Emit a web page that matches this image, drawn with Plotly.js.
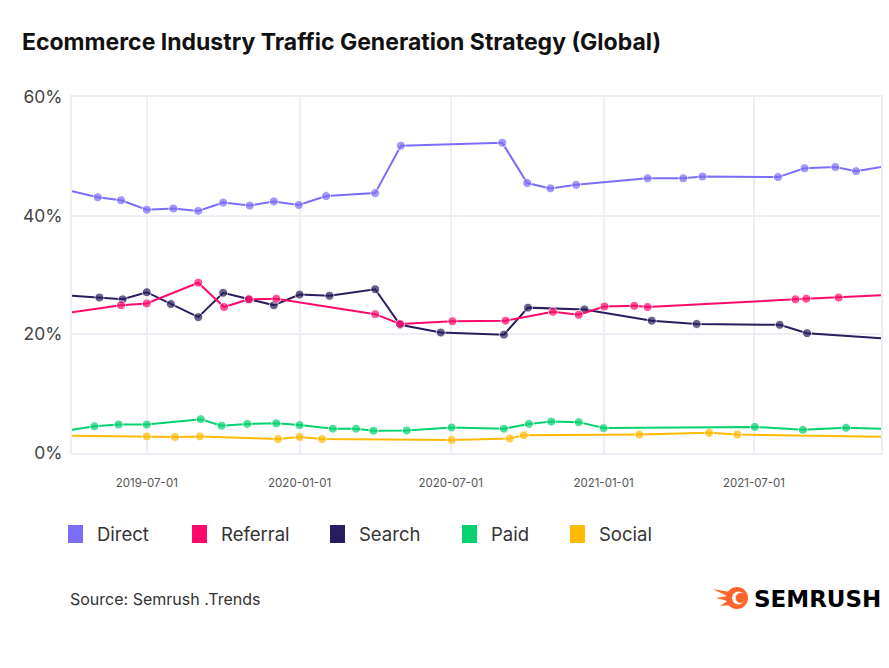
<!DOCTYPE html>
<html>
<head>
<meta charset="utf-8">
<script src="https://cdn.plot.ly/plotly-3.0.1.min.js"></script>
<style>html,body{margin:0;padding:0;background:#fff;}#chart{width:889px;height:668px;}</style>
</head>
<body>
<div id="chart"></div>
<script>
// ---- data (values in %) ----
const titleText = 'Ecommerce Industry Traffic Generation Strategy (Global)';
const sourceText = 'Source: Semrush .Trends';
const seriesNames = ['Direct', 'Referral', 'Search', 'Paid', 'Social'];
const xTickStart = '2019-07-01';
const xRange = ['2019-04-02', '2021-12-01'];
const yTicks = [0, 20, 40, 60];

const directDates = ['2019-04-02','2019-05-03','2019-05-31','2019-07-01','2019-08-02','2019-09-01','2019-10-01','2019-11-02','2019-12-01','2019-12-31','2020-02-02','2020-04-01','2020-05-02','2020-09-01','2020-10-01','2020-10-29','2020-11-29','2021-02-23','2021-04-07','2021-04-30','2021-07-30','2021-08-31','2021-10-07','2021-11-01','2021-12-01'];
const directValues = [44.1,43.1,42.6,41.0,41.2,40.8,42.2,41.7,42.4,41.8,43.3,43.8,51.8,52.3,45.5,44.6,45.2,46.3,46.3,46.6,46.5,48.0,48.2,47.5,48.2];

const referralDates = ['2019-04-02','2019-05-31','2019-07-01','2019-09-01','2019-10-02','2019-11-01','2019-12-04','2020-04-01','2020-05-01','2020-07-03','2020-09-05','2020-11-01','2020-12-02','2021-01-02','2021-02-07','2021-02-23','2021-08-20','2021-09-02','2021-10-11','2021-12-01'];
const referralValues = [23.7,24.9,25.2,28.7,24.6,25.9,26.0,23.4,21.75,22.2,22.3,23.8,23.3,24.7,24.8,24.6,25.9,26.0,26.2,26.6];

const searchDates = ['2019-04-02','2019-05-05','2019-06-02','2019-07-01','2019-07-30','2019-09-01','2019-10-01','2019-11-01','2019-12-01','2020-01-01','2020-02-06','2020-04-01','2020-05-01','2020-06-19','2020-09-03','2020-10-02','2020-12-09','2021-02-28','2021-04-23','2021-08-01','2021-09-03','2021-12-01'];
const searchValues = [26.5,26.2,25.9,27.1,25.1,22.9,27.0,25.9,24.9,26.7,26.5,27.6,21.6,20.3,19.95,24.5,24.2,22.3,21.75,21.6,20.2,19.35];

const paidDates = ['2019-04-02','2019-04-29','2019-05-28','2019-07-01','2019-09-04','2019-09-29','2019-10-30','2019-12-04','2020-01-01','2020-02-10','2020-03-09','2020-03-30','2020-05-09','2020-07-02','2020-09-03','2020-10-03','2020-10-30','2020-12-02','2021-01-01','2021-07-02','2021-08-29','2021-10-20','2021-12-01'];
const paidValues = [3.9,4.5,4.8,4.8,5.7,4.6,4.9,5.0,4.7,4.1,4.1,3.75,3.8,4.3,4.1,4.9,5.3,5.2,4.2,4.4,3.9,4.25,4.1];

const socialDates = ['2019-04-02','2019-07-01','2019-08-04','2019-09-03','2019-12-06','2020-01-01','2020-01-28','2020-07-02','2020-09-10','2020-09-27','2021-02-13','2021-05-08','2021-06-11','2021-12-01'];
const socialValues = [2.9,2.8,2.7,2.8,2.35,2.7,2.35,2.2,2.45,3.0,3.1,3.4,3.1,2.75];

// ---- styles ----
const colors = {Direct:'#7C6DF9', Referral:'#FF0A6C', Search:'#2A1D5F', Paid:'#05D26E', Social:'#FFBA05'};
const FONT = 'Inter, "Noto Sans", sans-serif';

// plot area in pixels
const W = 889, H = 668;
const M = {l: 72, r: 8, t: 97, b: 215};
const PW = W - M.l - M.r, PH = H - M.t - M.b;
const px = x => (x - M.l) / PW;
const py = y => (H - M.b - y) / PH;

function series(name, xs, ys) {
  const sizes = xs.map((_, i) => (i === 0 || i === xs.length - 1) ? 0 : 9);
  return {
    type: 'scatter', mode: 'lines+markers', name: name, x: xs, y: ys,
    line: {color: colors[name], width: 2},
    marker: {color: colors[name], size: sizes},
    showlegend: false, hoverinfo: 'x+y'
  };
}

const data = [
  series('Social', socialDates, socialValues),
  series('Paid', paidDates, paidValues),
  series('Search', searchDates, searchValues),
  series('Referral', referralDates, referralValues),
  series('Direct', directDates, directValues)
];

// custom legend
const legendX = [68, 192, 330, 462, 570];
const legendY = 534;
const shapes = [];
const annotations = [];
seriesNames.forEach((n, i) => {
  shapes.push({type: 'rect', xref: 'paper', yref: 'paper',
    x0: px(legendX[i]), x1: px(legendX[i] + 15), y0: py(legendY + 9), y1: py(legendY - 9),
    fillcolor: colors[n], line: {width: 0}});
  annotations.push({xref: 'paper', yref: 'paper', x: px(legendX[i] + 27), y: py(legendY),
    xanchor: 'left', yanchor: 'middle', showarrow: false, text: n,
    font: {family: FONT, size: 18.5, color: '#333'}});
});

// source
annotations.push({xref: 'paper', yref: 'paper', x: px(68), y: py(599), xanchor: 'left', yanchor: 'middle',
  showarrow: false, text: sourceText, font: {family: FONT, size: 16, color: '#333'}});

// logo
const orange = '#FF642D';
function P(pts) { return 'M ' + pts.map(p => px(p[0]) + ',' + py(p[1])).join(' L ') + ' Z'; }
shapes.push({type: 'path', xref: 'paper', yref: 'paper', fillcolor: orange, line: {width: 0},
  path: P([[713, 589], [730, 592], [729, 597]])});
shapes.push({type: 'path', xref: 'paper', yref: 'paper', fillcolor: orange, line: {width: 0},
  path: P([[716, 598], [728, 596], [728, 601]])});
shapes.push({type: 'path', xref: 'paper', yref: 'paper', fillcolor: orange, line: {width: 0},
  path: P([[720, 606], [729, 600], [731, 605]])});
shapes.push({type: 'circle', xref: 'paper', yref: 'paper', fillcolor: orange, line: {width: 0},
  x0: px(726), x1: px(748), y0: py(609), y1: py(587)});
shapes.push({type: 'circle', xref: 'paper', yref: 'paper', fillcolor: '#fff', line: {width: 0},
  x0: px(732), x1: px(745), y0: py(604.5), y1: py(591.5)});
shapes.push({type: 'circle', xref: 'paper', yref: 'paper', fillcolor: orange, line: {width: 0},
  x0: px(735.5), x1: px(746), y0: py(603), y1: py(593)});
annotations.push({xref: 'paper', yref: 'paper', x: px(752), y: py(598.5), xanchor: 'left', yanchor: 'middle',
  showarrow: false, text: '<b>SEMRUSH</b>', font: {family: '"DejaVu Sans", sans-serif', size: 23, color: '#000'}});

const grid = '#EDEDF5';
const layout = {
  width: W, height: H,
  margin: M,
  paper_bgcolor: '#fff', plot_bgcolor: '#fff',
  title: {text: '<b>' + titleText + '</b>', xref: 'container', yref: 'container',
    x: 22 / W, xanchor: 'left', y: 1 - 42 / H, yanchor: 'middle',
    font: {family: FONT, size: 23, color: '#111'}},
  xaxis: {
    type: 'date', range: xRange, tick0: xTickStart, dtick: 'M6', tickformat: '%Y-%m-%d',
    showgrid: true, gridcolor: grid, gridwidth: 2,
    showline: true, linecolor: grid, linewidth: 2, mirror: true,
    ticks: '', ticklabelstandoff: 18,
    tickfont: {family: FONT, size: 11.5, color: '#555'}, zeroline: false
  },
  yaxis: {
    range: [0, 60], tickvals: yTicks, ticktext: yTicks.map(v => v + '%'),
    showgrid: true, gridcolor: grid, gridwidth: 2,
    showline: true, linecolor: grid, linewidth: 2, mirror: true,
    ticks: '', ticklabelstandoff: 4, zeroline: false,
    tickfont: {family: FONT, size: 17.5, color: '#444'}
  },
  shapes: shapes,
  annotations: annotations,
  showlegend: false
};

Plotly.newPlot('chart', data, layout, {displayModeBar: false, staticPlot: true});
</script>
</body>
</html>
